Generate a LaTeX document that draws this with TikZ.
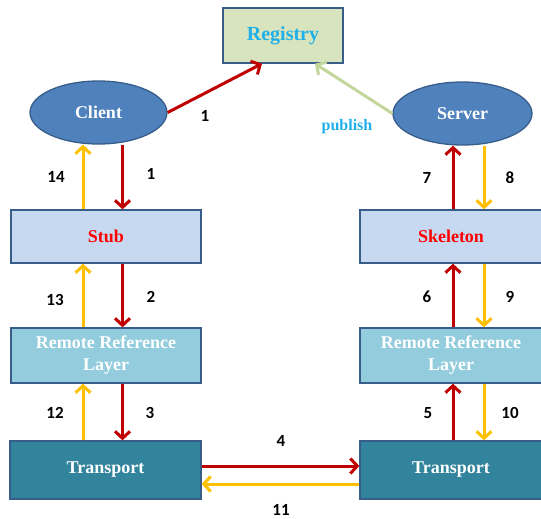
\documentclass[tikz,border=0pt]{standalone}
\usepackage{fontspec}
\setmainfont{Liberation Serif}
\newfontfamily\numfont{Carlito}
\usetikzlibrary{arrows.meta,shapes.geometric}
\definecolor{redc}{HTML}{C00000}
\definecolor{yelc}{HTML}{FFC000}
\definecolor{grnc}{HTML}{C3D69B}
\definecolor{regfill}{HTML}{D7E4BD}
\definecolor{regtext}{HTML}{1FB0EA}
\definecolor{ellfill}{HTML}{4F81BD}
\definecolor{edge}{HTML}{385D8A}
\definecolor{stubfill}{HTML}{C6D9F1}
\definecolor{rrlfill}{HTML}{93CDDD}
\definecolor{trfill}{HTML}{31849B}
\begin{document}
\begin{tikzpicture}[x=1pt,y=-1pt,
  box/.style={draw=edge, line width=1.3pt, align=center, inner sep=0pt,
    font=\bfseries\fontsize{18}{22}\selectfont},
  ell/.style={box, ellipse, fill=ellfill, text=white},
  arr/.style={line width=3pt, -{Straight Barb[length=7pt,width=15pt]}},
  redarr/.style={arr, draw=redc},
  yelarr/.style={arr, draw=yelc},
  num/.style={font=\numfont\bfseries\fontsize{17}{17}\selectfont, text=black}]
\useasboundingbox (0,0) rectangle (541,519);
\node[box, fill=regfill, text=regtext, minimum width=120pt, minimum height=55pt,
  font=\bfseries\fontsize{20}{22}\selectfont] (registry) at (283,35.5) {Registry};
\node[ell, minimum width=137pt, minimum height=63pt] (client) at (98.5,112.5) {Client};
\node[ell, minimum width=139pt, minimum height=63pt] (server) at (462.5,113.5) {Server};
\node[box, fill=stubfill, text=red, minimum width=190pt, minimum height=53pt] (stub) at (106,236.5) {Stub};
\node[box, fill=stubfill, text=red, minimum width=182pt, minimum height=53pt] (skel) at (451,236.5) {Skeleton};
\node[box, fill=rrlfill, text=white, minimum width=190pt, minimum height=55pt] (lrrl) at (106,355.5) {Remote Reference\\Layer};
\node[box, fill=rrlfill, text=white, minimum width=182pt, minimum height=55pt] (rrrl) at (451,355.5) {Remote Reference\\Layer};
\node[box, fill=trfill, text=white, minimum width=191pt, minimum height=58pt] (ltr) at (105.5,470) {Transport};
\node[box, fill=trfill, text=white, minimum width=182pt, minimum height=58pt] (rtr) at (451,470) {Transport};
% registry links
\draw[redarr] (client.east) -- ([xshift=-21pt]registry.south);
\draw[arr, draw=grnc] (server.west) -- ([xshift=32pt]registry.south);
\node[font=\bfseries\fontsize{16}{16}\selectfont, text=regtext] (pub) at (347,127) {publish};
% left column
\draw[redarr] ([xshift=24pt]client.south) -- ([xshift=16.5pt]stub.north);
\draw[yelarr] ([xshift=-23pt]stub.north) -- ([xshift=-15.5pt]client.south);
\draw[redarr] ([xshift=16.5pt]stub.south) -- ([xshift=16.5pt]lrrl.north);
\draw[yelarr] ([xshift=-23pt]lrrl.north) -- ([xshift=-23pt]stub.south);
\draw[redarr] ([xshift=16.5pt]lrrl.south) -- ([xshift=17pt]ltr.north);
\draw[yelarr] ([xshift=-22.5pt]ltr.north) -- ([xshift=-23pt]lrrl.south);
% right column
\draw[redarr] ([xshift=2pt]skel.north) -- ([xshift=-9.5pt]server.south);
\draw[yelarr] ([xshift=21.5pt]server.south) -- ([xshift=33pt]skel.north);
\draw[redarr] ([xshift=2pt]rrrl.north) -- ([xshift=2pt]skel.south);
\draw[yelarr] ([xshift=33pt]skel.south) -- ([xshift=33pt]rrrl.north);
\draw[redarr] ([xshift=2pt]rtr.north) -- ([xshift=2pt]rrrl.south);
\draw[yelarr] ([xshift=33pt]rrrl.south) -- ([xshift=33pt]rtr.north);
% transport links
\draw[redarr] ([yshift=4pt]ltr.east) -- ([yshift=4pt]rtr.west);
\draw[yelarr] ([yshift=-14pt]rtr.west) -- ([yshift=-14pt]ltr.east);
% numbers
\node[num] (n1a) at (205,116) {1};
\node[num] (n1b) at (151,174) {1};
\node[num] (n14) at (56,177) {14};
\node[num] (n7) at (427,178) {7};
\node[num] (n8) at (510,178) {8};
\node[num] (n13) at (55,300) {13};
\node[num] (n2) at (151,297) {2};
\node[num] (n6) at (427,297) {6};
\node[num] (n9) at (510,297) {9};
\node[num] (n12) at (55,413) {12};
\node[num] (n3) at (150,413) {3};
\node[num] (n5) at (428,413) {5};
\node[num] (n10) at (510,413) {10};
\node[num] (n4) at (281,441) {4};
\node[num] (n11) at (281,510) {11};
\end{tikzpicture}
\end{document}
